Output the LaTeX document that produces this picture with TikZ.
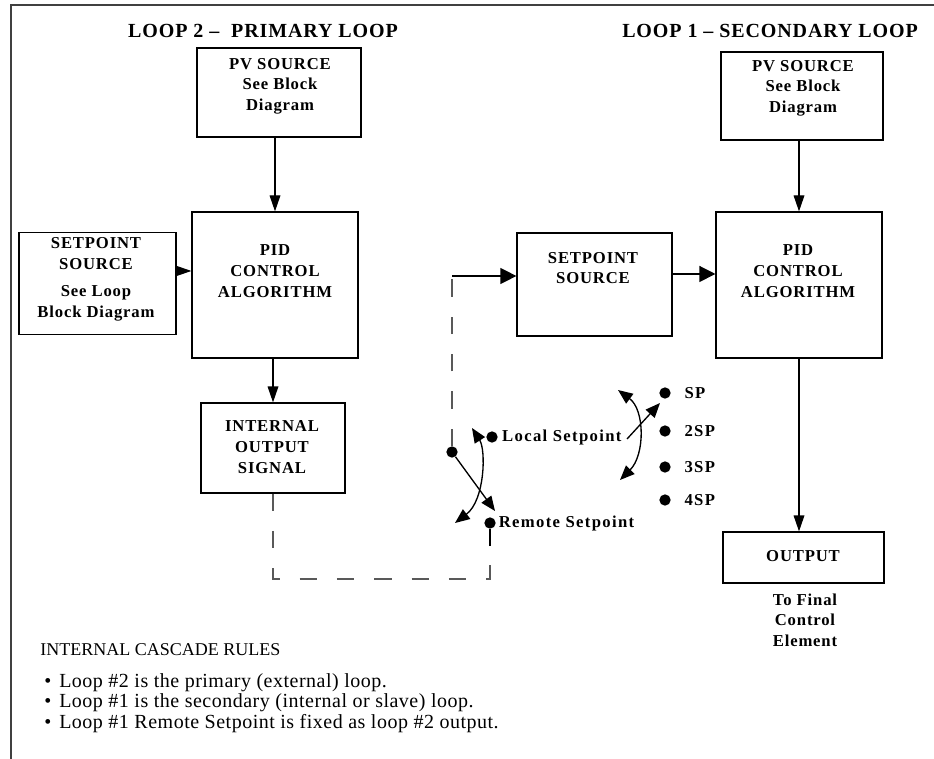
\documentclass[tikz,border=0pt]{standalone}
\usepackage{fontspec}
\setmainfont{Liberation Serif}
\usetikzlibrary{arrows.meta,calc,positioning}

\tikzset{
  blk/.style 2 args={draw, line width=0.9pt, inner sep=0pt, minimum width=#1, minimum height=#2},
  btxt/.style={font=\bfseries\fontsize{12.5}{15.5}\selectfont\addfontfeature{LetterSpace=5}, align=center, inner sep=0pt},
  ttl/.style={font=\bfseries\fontsize{15}{18}\selectfont\addfontfeature{LetterSpace=4.5}, inner sep=0pt},
  arr/.style={line width=0.9pt, -{Triangle[length=12pt,width=8pt]}},
  bigarr/.style={line width=0.9pt, -{Triangle[length=12pt,width=12pt]}},
  swarr/.style={line width=1pt, -{Triangle[length=11pt,width=9pt]}},
  swarrs/.style={line width=1pt, {Triangle[length=11pt,width=9pt]}-{Triangle[length=11pt,width=9pt]}},
  dashline/.style={line width=1.4pt, black!65, dash pattern=on 13pt off 15pt},
  dot/.style={circle, fill, inner sep=0pt, minimum size=8.5pt},
  lbl/.style={font=\bfseries\fontsize{12.5}{15}\selectfont\addfontfeature{LetterSpace=8}, inner sep=0pt, anchor=west},
}

\begin{document}
\begin{tikzpicture}[x=0.75pt,y=-0.75pt]
  \useasboundingbox (0,0) rectangle (934,759);
  % frame
  \draw[line width=1.2pt, black!75] (934,5) -- (11,5) -- (11,759);
  % titles
  \node[ttl] (ttlL) at (263,31) {LOOP 2 --\ \ PRIMARY LOOP};
  \node[ttl] (ttlR) at (770,31) {LOOP 1 -- SECONDARY LOOP};
  % loop 2 (primary)
  \node[blk={123pt}{66.75pt}] (pvL) at (279,92.5) {};
  \node[btxt] (pvLt) at (280,86) {PV SOURCE\\See Block\\Diagram};
  \node[blk={124.5pt}{109.5pt}] (pidL) at (275,285) {};
  \node[btxt] (pidLt) at (275,271) {PID\\CONTROL\\ALGORITHM};
  \node[blk={117.75pt}{76.5pt}] (spL) at (97.5,283.5) {};
  \node[btxt] (spLt) at (96,279) {SETPOINT\\SOURCE\\[5pt]See Loop\\Block Diagram};
  \node[blk={108pt}{67.5pt}] (intL) at (273,448) {};
  \node[btxt] (intLt) at (272,447) {INTERNAL\\OUTPUT\\SIGNAL};
  \draw[arr] (pidL.north |- pvL.south) -- (pidL.north);
  \draw[arr] ([yshift=9.4pt]spL.east) -- ([yshift=9.4pt]spL.east -| pidL.west);
  \draw[arr] (pidL.south -| intL.north) -- (intL.north);
  % loop 1 (secondary)
  \node[blk={121.5pt}{66pt}] (pvR) at (802,96) {};
  \node[btxt] (pvRt) at (803,88) {PV SOURCE\\See Block\\Diagram};
  \node[blk={124.5pt}{109.5pt}] (pidR) at (799,285) {};
  \node[btxt] (pidRt) at (798,271) {PID\\CONTROL\\ALGORITHM};
  \node[blk={116.25pt}{77.25pt}] (spR) at (594.5,284.5) {};
  \node[btxt] (spRt) at (593,268) {SETPOINT\\SOURCE};
  \node[blk={120.75pt}{38.25pt}] (outR) at (803.5,557.5) {};
  \node[btxt] (outRt) at (803,556) {OUTPUT};
  \node[btxt] (fce) at (805,620) {To Final\\Control\\Element};
  \draw[arr] (pidR.north |- pvR.south) -- (pidR.north);
  \draw[bigarr] ([yshift=7.9pt]spR.east) -- ([yshift=7.9pt]spR.east -| pidR.west);
  \draw[arr] (pidR.south) -- (outR.north -| pidR.south);
  % remote setpoint switch
  \node[dot] (piv) at (452,452) {};
  \node[dot] (lsd) at (492,437) {};
  \node[dot] (rsd) at (490,523) {};
  \node[lbl, right=3pt of lsd] (lsl) {Local Setpoint};
  \node[lbl, right=2pt of rsd] (rsl) {Remote Setpoint};
  \coordinate (turn) at (452,276);
  \draw[dashline] (piv) -- (turn);
  \draw[bigarr] (turn) -- (turn -| spR.west);
  \coordinate (swL) at (495,511);
  \draw[swarr] (piv) -- (swL);
  \coordinate (arcLa) at (472,428);
  \coordinate (arcLb) at (455,523);
  \draw[swarrs] (arcLa) .. controls (486,450) and (485,500) .. (arcLb);
  % loop 2 output to remote setpoint
  \coordinate (lpA) at (273,579);
  \coordinate (lpB) at (490,579);
  \coordinate (lpC) at (490,546);
  \draw[dashline] (intL.south) -- (lpA) -- (lpB) -- (lpC);
  \draw[line width=0.9pt] (lpC) -- (rsd);
  % setpoint selector
  \node[dot] (d1) at (665,393) {};
  \node[dot] (d2) at (665,431) {};
  \node[dot] (d3) at (665,467) {};
  \node[dot] (d4) at (665,500) {};
  \node[lbl, right=10pt of d1] (sp1) {SP};
  \node[lbl, right=10pt of d2] (sp2) {2SP};
  \node[lbl, right=10pt of d3] (sp3) {3SP};
  \node[lbl, right=10pt of d4] (sp4) {4SP};
  \coordinate (swRa) at (627,439);
  \coordinate (swRb) at (660,403);
  \draw[swarr] (swRa) -- (swRb);
  \coordinate (arcRa) at (618,390);
  \coordinate (arcRb) at (620,480);
  \draw[swarrs] (arcRa) .. controls (645,410) and (645,455) .. (arcRb);
  % rules
  \node[font=\fontsize{13.5}{16}\selectfont, anchor=west, inner sep=0pt] (rules) at (40,650) {INTERNAL CASCADE RULES};
  \node[font=\fontsize{15}{15.4}\selectfont\addfontfeature{LetterSpace=2.5}, anchor=north west, align=left, inner sep=0pt] (ruleList) at (44,673)
    {\textbullet\hspace{6pt}Loop \#2 is the primary (external) loop.\\
     \textbullet\hspace{6pt}Loop \#1 is the secondary (internal or slave) loop.\\
     \textbullet\hspace{6pt}Loop \#1 Remote Setpoint is fixed as loop \#2 output.};
\end{tikzpicture}
\end{document}
